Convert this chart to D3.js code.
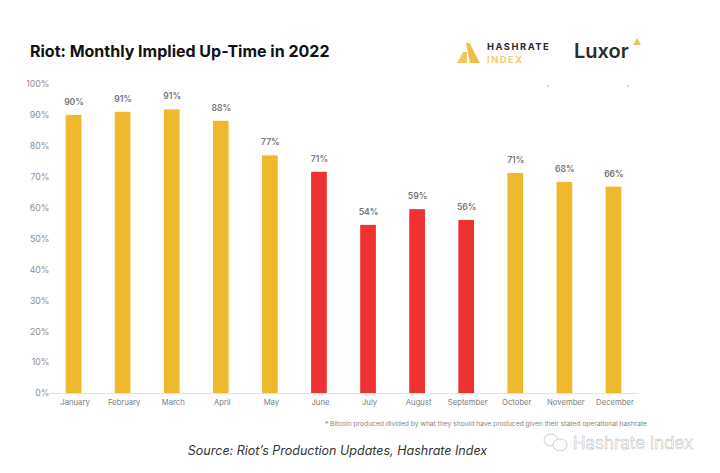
<!DOCTYPE html>
<html>
<head>
<meta charset="utf-8">
<script src="https://cdn.jsdelivr.net/npm/d3@7"></script>
<style>
  html, body { margin: 0; padding: 0; background: #fff; }
  svg { display: block; }
  text { font-family: Inter, "Noto Sans", sans-serif; }
</style>
</head>
<body>
<div id="chart"></div>
<script>
const months = ["January", "February", "March", "April", "May", "June", "July", "August", "September", "October", "November", "December"];
const upTime = [90, 91, 91.8, 88.1, 76.9, 71.6, 54.4, 59.5, 56, 71.2, 68.3, 66.8];
const valueLabels = ["90%", "91%", "91%", "88%", "77%", "71%", "54%", "59%", "56%", "71%", "68%", "66%"];
const redMonths = ["June", "July", "August", "September"];
const yTicks = [0, 10, 20, 30, 40, 50, 60, 70, 80, 90, 100];

const width = 720, height = 473;
const margin = { top: 84, right: 82, bottom: 80, left: 49 };
const gold = "#efb92f", red = "#f03131";

const svg = d3.select("#chart").append("svg")
  .attr("width", width)
  .attr("height", height);

const x = d3.scaleBand()
  .domain(months)
  .range([margin.left, width - margin.right])
  .paddingInner(0.68)
  .paddingOuter(0.34);

const y = d3.scaleLinear()
  .domain([0, 100])
  .range([height - margin.bottom, margin.top]);

// title
svg.append("text")
  .attr("x", 30).attr("y", 57)
  .attr("font-size", 16)
  .attr("font-weight", 700)
  .attr("fill", "#111")
  .text("Riot: Monthly Implied Up-Time in 2022");

// y axis, labels only
const yAxis = svg.append("g")
  .attr("transform", `translate(${margin.left + 0.5},0)`)
  .call(d3.axisLeft(y).tickValues(yTicks).tickFormat(d => d + "%").tickSize(0).tickPadding(0));
yAxis.select(".domain").remove();
yAxis.selectAll("text")
  .attr("font-size", 8.8)
  .attr("fill", "#8f8f8f")
  .style("font-family", "Inter");

// x axis
const xAxis = svg.append("g")
  .attr("transform", `translate(0,${y(0)})`)
  .call(d3.axisBottom(x).tickSize(0).tickPadding(7));
xAxis.select(".domain").attr("stroke", "#dfe3e8").attr("stroke-width", 1);
xAxis.selectAll("text")
  .attr("dx", 1.5)
  .attr("font-size", 7.7)
  .attr("fill", "#7d7d7d")
  .style("font-family", "Inter");

// bars
svg.append("g").selectAll("rect")
  .data(months)
  .join("rect")
  .attr("x", d => x(d))
  .attr("y", (d, i) => y(upTime[i]))
  .attr("width", x.bandwidth())
  .attr("height", (d, i) => y(0) - y(upTime[i]))
  .attr("fill", d => redMonths.includes(d) ? red : gold);

// value labels
svg.append("g").selectAll("text")
  .data(months)
  .join("text")
  .attr("x", d => x(d) + x.bandwidth() / 2 + 0.5)
  .attr("y", (d, i) => y(upTime[i]) - 10)
  .attr("text-anchor", "middle")
  .attr("font-size", 8.6)
  .attr("font-weight", 600)
  .attr("fill", "#777")
  .text((d, i) => valueLabels[i]);

// footnote + source
svg.append("text")
  .attr("x", 647).attr("y", 426)
  .attr("text-anchor", "end")
  .attr("font-size", 6.7)
  .attr("fill", "#858585")
  .text("* Bitcoin produced divided by what they should have produced given their stated operational hashrate");

svg.append("text")
  .attr("x", 337.5).attr("y", 455)
  .attr("text-anchor", "middle")
  .attr("font-size", 12.5)
  .attr("font-style", "italic")
  .attr("fill", "#333")
  .text("Source: Riot’s Production Updates, Hashrate Index");

// Hashrate Index logo
const logo = svg.append("g");
logo.append("path").attr("d", "M457 63 L463 52 L467 52 L467 63 Z").attr("fill", "#f0c75e");
logo.append("path").attr("d", "M466 43 Q468 42 470 44 L480 63 L470 63 Z").attr("fill", "#efbe45");
logo.append("text").attr("x", 487).attr("y", 50)
  .attr("font-size", 9.4).attr("font-weight", 700).attr("letter-spacing", 1.5)
  .attr("fill", "#2b2b2b").text("HASHRATE");
logo.append("text").attr("x", 487).attr("y", 63)
  .attr("font-size", 9.4).attr("font-weight", 700).attr("letter-spacing", 1.5)
  .attr("fill", "#f0cd73").text("INDEX");

// Luxor logo
logo.append("text").attr("x", 574).attr("y", 58)
  .attr("font-size", 20).attr("font-weight", 600)
  .attr("fill", "#2b2b2b").text("Luxor");
logo.append("path").attr("d", "M633 45 L637 38 L641 45 Z").attr("fill", "#efc355");

// two small specks above the chart
svg.append("g").selectAll("circle")
  .data([548, 628])
  .join("circle")
  .attr("cx", d => d).attr("cy", 86).attr("r", 0.8)
  .attr("fill", "#aaa");

// watermark
const mark = svg.append("g").attr("fill", "none").attr("stroke", "#c4c4c4").attr("stroke-width", 0.8);
mark.append("ellipse").attr("cx", 551).attr("cy", 440).attr("rx", 7).attr("ry", 6);
mark.append("ellipse").attr("cx", 560).attr("cy", 445).attr("rx", 7).attr("ry", 6).attr("fill", "#fff");
svg.append("text")
  .attr("x", 573).attr("y", 449)
  .attr("font-size", 16.9)
  .attr("fill", "#fff")
  .attr("stroke", "#b5b5b5")
  .attr("stroke-width", 0.45)
  .text("Hashrate Index");
</script>
</body>
</html>
